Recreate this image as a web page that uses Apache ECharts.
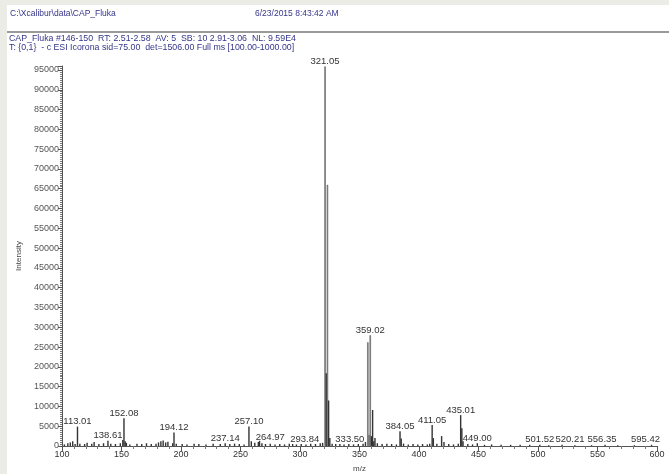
<!DOCTYPE html>
<html lang="en">
<head>
    <meta charset="UTF-8">
    <title>CAP_Fluka mass spectrum</title>
    <script src="https://cdn.jsdelivr.net/npm/echarts@6/dist/echarts.min.js"></script>
    <style>
        html, body { margin: 0; padding: 0; background: #fff; }
        #main { width: 669px; height: 474px; }
    </style>
</head>
<body>
<div id="main"></div>
<script>
    // peak positions (m/z) and intensities
    var mz = [
        102.0, 104.9, 107.0, 109.0, 111.0, 113.01, 115.0, 119.0, 121.1, 125.0,
        127.0, 131.0, 134.9, 138.61, 141.0, 144.9, 149.0, 151.1, 152.08, 153.1,
        154.1, 157.0, 163.0, 167.0, 171.0, 175.0, 179.0, 181.1, 183.1, 185.0,
        187.1, 189.0, 193.0, 194.12, 196.0, 201.0, 205.0, 211.0, 215.0, 221.0,
        227.0, 233.0, 237.14, 241.0, 245.0, 249.0, 253.0, 257.10, 259.1, 262.0,
        264.97, 266.0, 268.0, 271.0, 275.0, 279.0, 283.0, 287.0, 291.0, 293.84,
        297.0, 301.0, 305.0, 309.0, 313.0, 317.0, 319.0, 321.05, 322.05, 323.05,
        324.05, 325.05, 327.0, 330.0, 333.50, 337.0, 341.0, 345.0, 349.0, 353.0,
        355.0, 357.02, 358.02, 359.02, 360.02, 361.02, 362.0, 363.0, 365.0, 369.0,
        373.0, 377.0, 381.0, 384.05, 385.05, 387.0, 391.0, 395.0, 399.0, 403.0,
        407.0, 409.0, 411.05, 412.05, 415.0, 419.0, 421.0, 425.0, 429.0, 433.0,
        435.01, 436.01, 437.0, 441.0, 445.0, 449.00, 455.0, 461.0, 469.0, 477.0,
        485.0, 493.0, 501.52, 509.0, 520.21, 531.0, 545.0, 556.35, 567.0, 581.0,
        595.42
    ];
    var intensity = [
        400, 700, 900, 1200, 500, 4900, 600, 500, 800, 600,
        1000, 500, 700, 1300, 600, 500, 700, 1500, 7000, 1200,
        800, 400, 600, 500, 700, 500, 600, 900, 1200, 1400,
        900, 1100, 700, 3400, 600, 500, 400, 600, 500, 400,
        600, 500, 700, 500, 600, 500, 400, 4900, 1200, 800,
        1000, 1300, 700, 500, 600, 400, 500, 400, 600, 500,
        400, 500, 400, 600, 500, 700, 800, 95900, 18400, 66000,
        11500, 2000, 600, 500, 500, 400, 500, 400, 500, 600,
        1000, 26200, 2800, 28000, 2500, 9100, 1200, 2000, 700, 500,
        600, 500, 400, 3700, 1900, 600, 400, 500, 400, 500,
        400, 600, 5300, 2000, 600, 2500, 1000, 500, 400, 600,
        7800, 4500, 1200, 500, 400, 700, 300, 400, 300, 300,
        300, 300, 300, 200, 300, 200, 200, 300, 200, 200,
        300
    ];
    // peaks that carry an m/z label
    var labelledPeaks = [113.01, 138.61, 152.08, 194.12, 237.14, 257.10, 264.97, 293.84,
        321.05, 333.50, 359.02, 384.05, 411.05, 435.01, 449.00, 501.52, 520.21, 556.35, 595.42];
    // horizontal nudges the instrument software gave some labels to keep them apart (px)
    var labelShift = { 264.97: 12, 293.84: 12, 333.50: 10, 520.21: 8, 556.35: -3, 595.42: -6 };
    // the big isotope peaks are drawn lighter
    var greyPeaks = [321.05, 323.05, 357.02, 358.02, 359.02];

    var yTicks = [0, 96000, 5000];   // min, max, interval
    var xTicks = [100, 600, 50];

    var peakData = mz.map(function (m, i) {
        var item = { value: [m, intensity[i]] };
        if (labelledPeaks.indexOf(m) >= 0) {
            item.label = { show: true, offset: [labelShift[m] || 0, 0] };
        }
        if (greyPeaks.indexOf(m) >= 0) {
            item.itemStyle = { color: '#a0a0a0', borderColor: '#555', borderWidth: 0.6 };
        }
        return item;
    });

    var font = 'Arial, "Liberation Sans", sans-serif';
    var headColor = '#35358a';

    var myChart = echarts.init(document.getElementById('main'));
    myChart.setOption({
        backgroundColor: '#fff',
        animation: false,
        graphic: [
            { type: 'rect', left: 0, top: 0, shape: { width: 7, height: 474 }, style: { fill: '#ecece7' }, silent: true },
            { type: 'rect', left: 0, top: 0, shape: { width: 669, height: 5 }, style: { fill: '#ecece7' }, silent: true },
            { type: 'line', shape: { x1: 7, y1: 32, x2: 669, y2: 32 }, style: { stroke: '#9a9a9a', lineWidth: 2 }, silent: true },
            { type: 'text', left: 10, top: 9, style: { text: 'C:\\Xcalibur\\data\\CAP_Fluka', fill: headColor, font: '8.5px ' + font } },
            { type: 'text', left: 255, top: 9, style: { text: '6/23/2015 8:43:42 AM', fill: headColor, font: '8.5px ' + font } },
            { type: 'text', left: 9, top: 34, style: { text: 'CAP_Fluka #146-150  RT: 2.51-2.58  AV: 5  SB: 10 2.91-3.06  NL: 9.59E4', fill: headColor, font: '8.8px ' + font } },
            { type: 'text', left: 9, top: 43, style: { text: 'T: {0,1}  - c ESI Icorona sid=75.00  det=1506.00 Full ms [100.00-1000.00]', fill: headColor, font: '8.8px ' + font } }
        ],
        grid: { left: 62, right: 12, top: 66, bottom: 28, outerBoundsMode: 'none' },
        xAxis: {
            type: 'value',
            min: xTicks[0],
            max: xTicks[1],
            interval: xTicks[2],
            name: 'm/z',
            nameLocation: 'middle',
            nameGap: 19,
            nameTextStyle: { fontFamily: font, fontSize: 8, color: '#444' },
            axisLine: { lineStyle: { color: '#555', width: 1 } },
            axisTick: { show: true, length: 5, lineStyle: { color: '#555' } },
            minorTick: { show: true, splitNumber: 5, length: 3, lineStyle: { color: '#777' } },
            axisLabel: { fontFamily: font, fontSize: 9, color: '#333', margin: 4 },
            splitLine: { show: false }
        },
        yAxis: {
            type: 'value',
            min: yTicks[0],
            max: yTicks[1],
            interval: yTicks[2],
            name: 'Intensity',
            nameLocation: 'middle',
            nameGap: 31,
            nameTextStyle: { fontFamily: font, fontSize: 8, color: '#444' },
            axisLine: { show: true, lineStyle: { color: '#555', width: 1 } },
            axisTick: { show: true, length: 4, lineStyle: { color: '#555' } },
            minorTick: { show: true, splitNumber: 10, length: 2, lineStyle: { color: '#777' } },
            axisLabel: {
                fontFamily: font, fontSize: 9, color: '#555', margin: 3,
                formatter: function (v) { return v % 5000 === 0 ? String(v) : ''; }
            },
            splitLine: { show: false }
        },
        series: [
            {
                type: 'bar',
                data: peakData,
                barWidth: 1.4,
                itemStyle: { color: '#333' },
                label: {
                    show: false,
                    position: 'top',
                    distance: 0,
                    lineHeight: 10,
                    fontFamily: font,
                    fontSize: 9.5,
                    color: '#333',
                    formatter: function (p) { return p.value[0].toFixed(2); }
                },
                emphasis: { disabled: true }
            }
        ]
    });
</script>
</body>
</html>
